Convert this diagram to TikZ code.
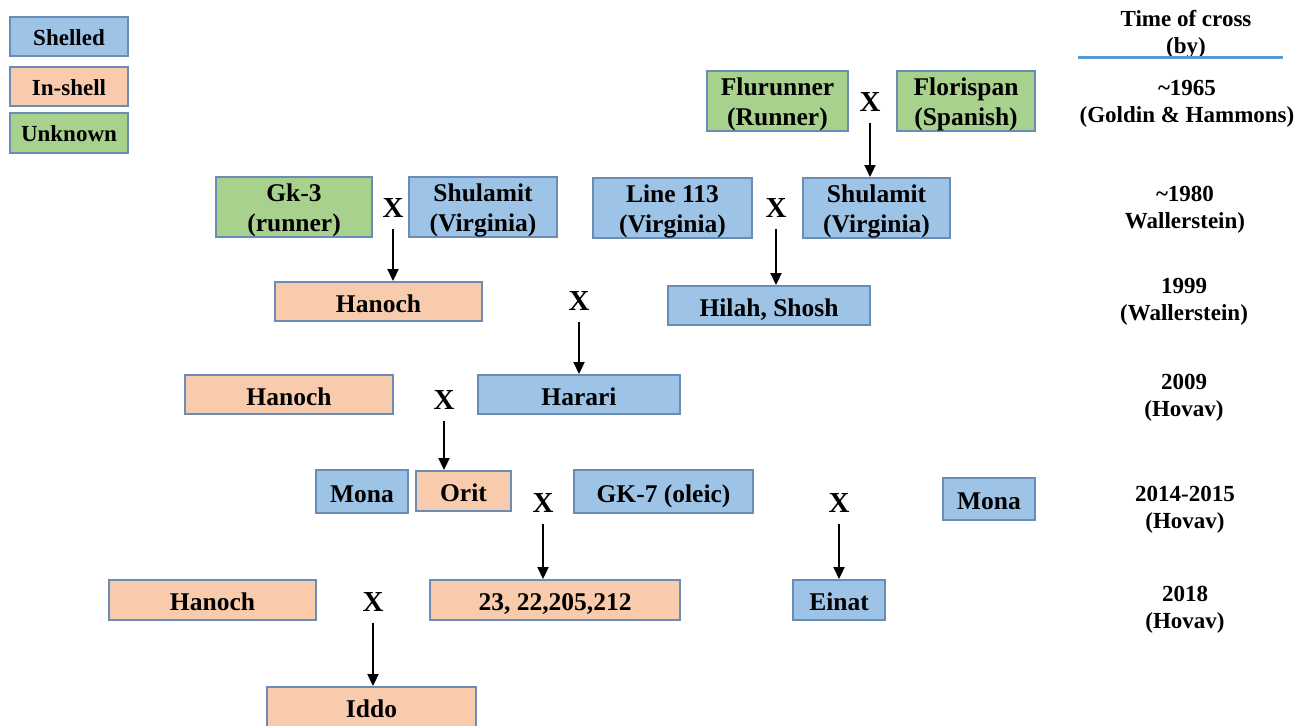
\documentclass[tikz,border=0pt]{standalone}
\usepackage{fontspec}
\setmainfont{Liberation Serif}
\usetikzlibrary{arrows.meta}
\definecolor{shellblue}{HTML}{9DC3E6}
\definecolor{inshell}{HTML}{F8CBAD}
\definecolor{unknowngreen}{HTML}{A9D18E}
\definecolor{boxborder}{HTML}{6A8DB8}
\definecolor{headline}{HTML}{5B9BD5}
\tikzset{
 cbox/.style={draw=boxborder, line width=1.4pt, rectangle, inner sep=0pt, outer sep=0pt, align=center, text height=21pt, text depth=0pt, font=\bfseries\fontsize{25.5}{30}\selectfont},
 twolab/.style={align=center, inner sep=0pt, yshift=-3.5pt, font=\bfseries\fontsize{25.5}{30}\selectfont},
 shelled/.style={cbox, fill=shellblue},
 inshellbox/.style={cbox, fill=inshell},
 unknownbox/.style={cbox, fill=unknowngreen},
 legendbox/.style={font=\bfseries\fontsize{23}{26}\selectfont, text height=17.5pt, text depth=0pt},
 crossmark/.style={font=\bfseries\fontsize{29}{30}\selectfont, inner sep=0pt},
 timetext/.style={align=center, font=\bfseries\fontsize{23}{27}\selectfont, inner sep=0pt},
 arr/.style={line width=2.2pt, -{Triangle[length=12pt,width=11pt]}, shorten <=11pt, shorten >=1pt},
}
\begin{document}
\begin{tikzpicture}[x=1pt,y=-1pt]
\useasboundingbox (0,0) rectangle (1308,725);
\clip (0,0) rectangle (1308,725);
% legend
\node[shelled, legendbox, minimum width=118pt, minimum height=39pt] (leg1) at (69,36.5) {Shelled};
\node[inshellbox, legendbox, minimum width=118pt, minimum height=39pt] (leg2) at (69,86.5) {In-shell};
\node[unknownbox, legendbox, minimum width=118pt, minimum height=40pt] (leg3) at (69,133) {Unknown};
% header
\node[timetext] (hdr) at (1186,34) {Time of cross\\(by)};
\coordinate (hl) at (1078,58);
\coordinate (hr) at (1283,58);
\draw[headline, line width=3pt] (hl) -- (hr);
\node[timetext] (t1) at (1187,104) {\textasciitilde1965\\(Goldin \& Hammons)};
\node[timetext] (t2) at (1185,209.5) {\textasciitilde1980\\Wallerstein)};
\node[timetext] (t3) at (1184,302) {1999\\(Wallerstein)};
\node[timetext] (t4) at (1184,398) {2009\\(Hovav)};
\node[timetext] (t5) at (1185,509.5) {2014-2015\\(Hovav)};
\node[timetext] (t6) at (1185,609.5) {2018\\(Hovav)};
% ~1965
\node[unknownbox, minimum width=141pt, minimum height=60pt, label={[twolab]center:{Flurunner\\(Runner)}}] (flur) at (777.5,101) {};
\node[unknownbox, minimum width=138pt, minimum height=60pt, label={[twolab]center:{Florispan\\(Spanish)}}] (flor) at (966,101) {};
\node[crossmark] (xa) at (870,102) {X};
% ~1980
\node[unknownbox, minimum width=156pt, minimum height=60pt, label={[twolab]center:{Gk-3\\(runner)}}] (gk3) at (294,207) {};
\node[crossmark] (xc) at (393,208) {X};
\node[shelled, minimum width=148pt, minimum height=60pt, label={[twolab]center:{Shulamit\\(Virginia)}}] (shL) at (483,207) {};
\node[shelled, minimum width=159pt, minimum height=60pt, label={[twolab]center:{Line 113\\(Virginia)}}] (l113) at (672.5,208) {};
\node[crossmark] (xb) at (776,208) {X};
\node[shelled, minimum width=147pt, minimum height=60pt, label={[twolab]center:{Shulamit\\(Virginia)}}] (shR) at (876.5,208) {};
% 1999
\node[inshellbox, minimum width=207pt, minimum height=39pt] (han1) at (378.5,301.5) {Hanoch};
\node[crossmark] (xd) at (579,301) {X};
\node[shelled, minimum width=202pt, minimum height=39pt] (hilah) at (769,305.5) {Hilah, Shosh};
% 2009
\node[inshellbox, minimum width=208pt, minimum height=39pt] (han2) at (289,394.5) {Hanoch};
\node[crossmark] (xe) at (444,400) {X};
\node[shelled, minimum width=202pt, minimum height=39pt] (harari) at (579,394.5) {Harari};
% 2014-2015
\node[shelled, minimum width=92pt, minimum height=43pt] (monaL) at (362,491.5) {Mona};
\node[inshellbox, minimum width=95pt, minimum height=40pt] (orit) at (463.5,491) {Orit};
\node[crossmark] (xf) at (543,503) {X};
\node[shelled, minimum width=179pt, minimum height=43pt] (gk7) at (663.5,491.5) {GK-7 (oleic)};
\node[crossmark] (xg) at (839,503) {X};
\node[shelled, minimum width=92pt, minimum height=42pt] (monaR) at (989,499) {Mona};
% 2018
\node[inshellbox, minimum width=207pt, minimum height=40pt] (han3) at (212.5,600) {Hanoch};
\node[crossmark] (xh) at (373,602) {X};
\node[inshellbox, minimum width=250pt, minimum height=40pt] (nums) at (555,600) {23, 22,205,212};
\node[shelled, minimum width=92pt, minimum height=40pt] (einat) at (839,600) {Einat};
% bottom
\node[inshellbox, minimum width=209pt, minimum height=40pt] (iddo) at (371.5,707) {Iddo};
% arrows
\draw[arr] (xa) -- (xa |- shR.north);
\draw[arr] (xb) -- (xb |- hilah.north);
\draw[arr] (xc) -- (xc |- han1.north);
\draw[arr] (xd) -- (xd |- harari.north);
\draw[arr] (xe) -- (xe |- orit.north);
\draw[arr] (xf) -- (xf |- nums.north);
\draw[arr] (xg) -- (xg |- einat.north);
\draw[arr] (xh) -- (xh |- iddo.north);
\end{tikzpicture}
\end{document}
